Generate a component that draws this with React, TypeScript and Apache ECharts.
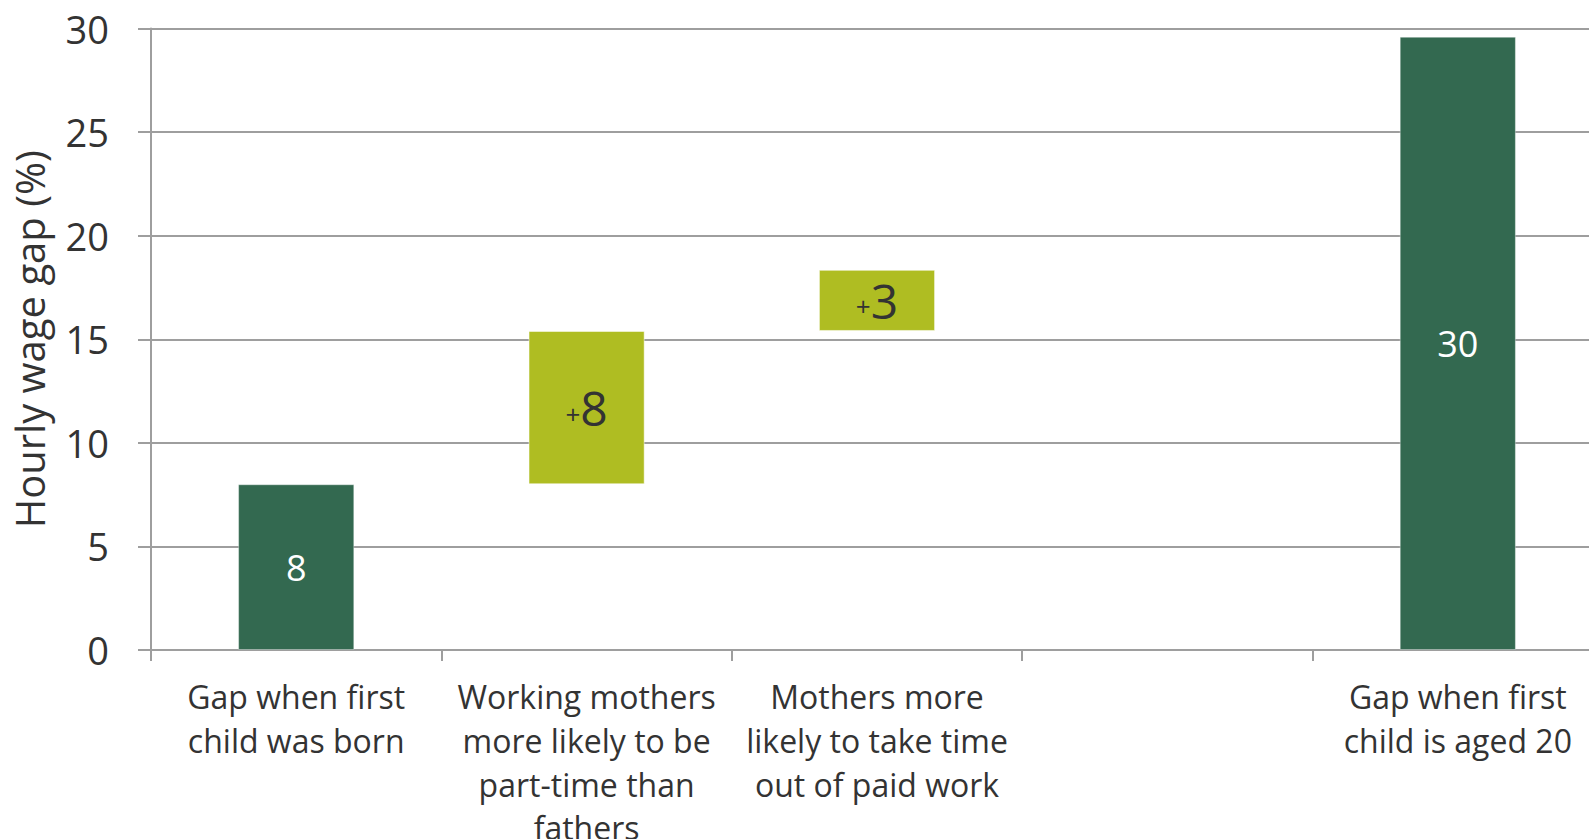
import React, { useEffect, useRef } from "react";
import * as echarts from "echarts";

const categories = [
  "Gap when first\nchild was born",
  "Working mothers\nmore likely to be\npart-time than\nfathers",
  "Mothers more\nlikely to take time\nout of paid work",
  "",
  "Gap when first\nchild is aged 20",
];
const baseValues: (number | null)[] = [0, 8.0, 15.4, null, 0];
const stepValues: (number | null)[] = [8.0, 7.4, 2.95, null, 29.6];
const stepKinds = ["total", "increase", "increase", "none", "total"];
const labelTexts = ["8", "+8", "+3", "", "30"];
const yTicks = { min: 0, max: 30, interval: 5 };

const DARK = "#336950";
const LIME = "#AFBD22";
const FONT = "'Open Sans', sans-serif";

export default function App() {
  const ref = useRef<HTMLDivElement>(null);
  useEffect(() => {
    document.body.style.margin = "0";
    const chart = echarts.init(ref.current!, null, { renderer: "svg" });
    const stepData = stepValues.map((v, i) => {
      const kind = stepKinds[i];
      const isTotal = kind === "total";
      const txt = labelTexts[i];
      return {
        value: v,
        itemStyle: {
          color: isTotal ? DARK : LIME,
          borderColor: isTotal ? "rgba(255,255,255,0.35)" : "rgba(255,255,255,0.5)",
          borderWidth: 1,
        },
        label: {
          show: txt !== "",
          position: "inside",
          formatter: isTotal ? `{w|${txt}}` : `{p|+}{n|${txt.replace("+", "")}}`,
          rich: {
            w: { color: "#ffffff", fontSize: 36, fontFamily: FONT },
            p: { color: "#333333", fontSize: 26, fontFamily: FONT, padding: [12, 0, 0, 0] },
            n: { color: "#333333", fontSize: 48, fontFamily: FONT },
          },
        },
      };
    });
    chart.setOption({
      animation: false,
      textStyle: { fontFamily: FONT },
      grid: {
        left: 151,
        top: 28.5,
        width: 1452,
        height: 621.5,
        outerBoundsMode: "none",
        containLabel: false,
      },
      xAxis: {
        type: "category",
        data: categories,
        axisLine: { show: true, lineStyle: { color: "#9e9e9e", width: 2 } },
        axisTick: { show: true, length: 11, alignWithLabel: false, lineStyle: { color: "#9e9e9e", width: 2 } },
        axisLabel: {
          interval: 0,
          margin: 25,
          fontSize: 32,
          lineHeight: 43.6,
          color: "#333333",
          fontFamily: FONT,
        },
      },
      yAxis: {
        type: "value",
        min: yTicks.min,
        max: yTicks.max,
        interval: yTicks.interval,
        name: "Hourly wage gap (%)",
        nameLocation: "middle",
        nameGap: 102,
        nameTextStyle: { fontSize: 40, color: "#333333", fontFamily: FONT },
        axisLine: { show: true, lineStyle: { color: "#9e9e9e", width: 2 } },
        axisTick: { show: true, length: 13, lineStyle: { color: "#9e9e9e", width: 2 } },
        splitLine: { show: true, lineStyle: { color: "#9e9e9e", width: 2 } },
        axisLabel: { fontSize: 38, margin: 42, color: "#333333", fontFamily: FONT },
      },
      series: [
        {
          type: "bar",
          stack: "w",
          data: baseValues,
          itemStyle: { color: "transparent" },
          barCategoryGap: "60%",
          silent: true,
        },
        {
          type: "bar",
          stack: "w",
          data: stepData,
          barCategoryGap: "60%",
        },
      ],
    });
    return () => chart.dispose();
  }, []);
  return (
    <div
      ref={ref}
      style={{ position: "fixed", left: 0, top: 0, width: 1589, height: 839, background: "#ffffff" }}
    />
  );
}
